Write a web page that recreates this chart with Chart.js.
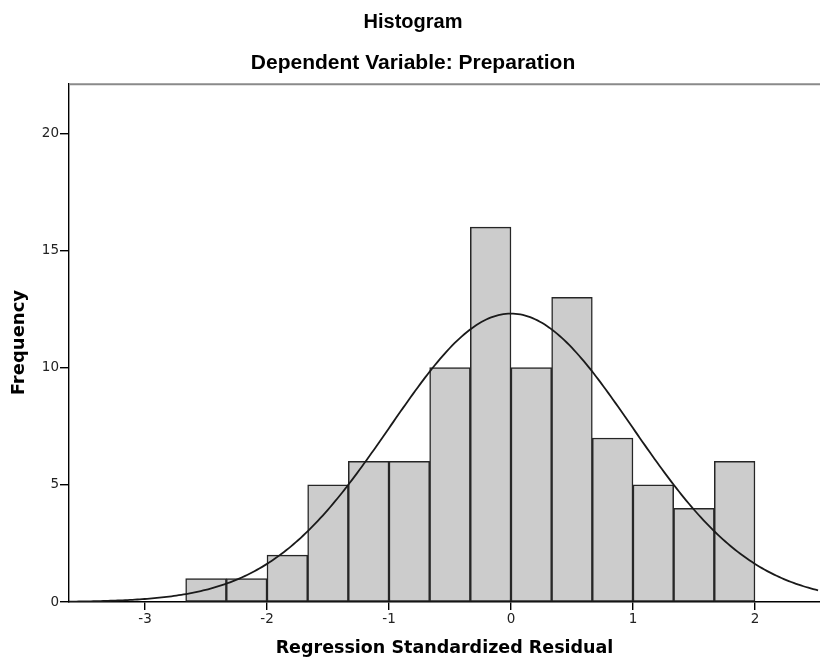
<!DOCTYPE html>
<html>
<head>
<meta charset="utf-8">
<title>Histogram</title>
<script src="https://cdn.jsdelivr.net/npm/chart.js@4/dist/chart.umd.min.js"></script>
<style>
  html, body { margin: 0; padding: 0; background: #ffffff; }
  #wrap { width: 820px; height: 661px; }
</style>
</head>
<body>
<div id="wrap"><canvas id="hist" width="820" height="661"></canvas></div>
<script>
// Histogram bins: lower edges (width one third of a unit) and counts
const binWidth = 1 / 3;
const binLowerEdges = [-8/3, -7/3, -6/3, -5/3, -4/3, -3/3, -2/3, -1/3, 0, 1/3, 2/3, 3/3, 4/3, 5/3];
const frequencies = [1, 1, 2, 5, 6, 6, 10, 16, 10, 13, 7, 5, 4, 6];

// Fitted normal curve parameters
const residualMean = 0;
const residualStdDev = 0.994;
const sampleSize = 92;

// Axis ticks and ranges
const xTickValues = [-3, -2, -1, 0, 1, 2];
const yTickValues = [0, 5, 10, 15, 20];
const xRange = [-3.623, 2.533];
const yRange = [0, 22.14];

const barPoints = binLowerEdges.map((lo, i) => ({ x: lo + binWidth / 2, y: frequencies[i] }));

// Normal density scaled to the histogram counts
const curvePoints = [];
for (let x = xRange[0]; x <= xRange[1] + 1e-9; x += 0.02) {
  const z = (x - residualMean) / residualStdDev;
  const y = sampleSize * binWidth * Math.exp(-0.5 * z * z) / (residualStdDev * Math.sqrt(2 * Math.PI));
  curvePoints.push({ x: x, y: y });
}

// Thin grey frame line along the top of the plot area
const topFrame = {
  id: 'topFrame',
  afterDraw(chart) {
    const { ctx, chartArea } = chart;
    ctx.save();
    ctx.strokeStyle = '#8a8a8a';
    ctx.lineWidth = 2;
    ctx.beginPath();
    ctx.moveTo(chartArea.left, chartArea.top + 1);
    ctx.lineTo(chartArea.right, chartArea.top + 1);
    ctx.stroke();
    ctx.restore();
  }
};

new Chart(document.getElementById('hist'), {
  type: 'bar',
  data: {
    datasets: [
      {
        type: 'line',
        data: curvePoints,
        borderColor: '#1a1a1a',
        borderWidth: 1.8,
        pointRadius: 0,
        tension: 0,
        fill: false,
        order: 0
      },
      {
        type: 'bar',
        data: barPoints,
        backgroundColor: '#cccccc',
        borderColor: '#262626',
        borderWidth: 1.5,
        borderSkipped: false,
        barPercentage: 1,
        categoryPercentage: 1,
        grouped: false,
        order: 1
      }
    ]
  },
  options: {
    responsive: false,
    animation: false,
    layout: { padding: { left: 6, right: 0, top: 0, bottom: 0 } },
    plugins: {
      legend: { display: false },
      tooltip: { enabled: false },
      title: {
        display: true,
        text: 'Histogram',
        color: '#000000',
        font: { family: 'Liberation Sans', size: 20, weight: 'bold', lineHeight: 1.2 },
        padding: { top: 10, bottom: 9 }
      },
      subtitle: {
        display: true,
        text: 'Dependent Variable: Preparation',
        color: '#000000',
        font: { family: 'Liberation Sans', size: 21, weight: 'bold', lineHeight: 1.2 },
        padding: { top: 8, bottom: 7 }
      }
    },
    scales: {
      x: {
        type: 'linear',
        min: xRange[0],
        max: xRange[1],
        offset: false,
        afterBuildTicks(scale) { scale.ticks = xTickValues.map(v => ({ value: v })); },
        afterFit(scale) { scale.height = 59; },
        grid: { display: true, offset: false, drawOnChartArea: false, drawTicks: true, tickLength: 8, color: '#000000', lineWidth: 1.4 },
        border: { display: true, color: '#000000', width: 1.4 },
        ticks: {
          color: '#222222',
          padding: 1,
          font: { family: 'DejaVu Sans', size: 13.5 },
          maxRotation: 0,
          callback: v => String(v)
        },
        title: {
          display: true,
          text: 'Regression Standardized Residual',
          color: '#000000',
          font: { family: 'DejaVu Sans', size: 17.5, weight: 'bold', lineHeight: 1.2 },
          padding: { top: 0, bottom: 2 }
        }
      },
      y: {
        type: 'linear',
        min: yRange[0],
        max: yRange[1],
        afterBuildTicks(scale) { scale.ticks = yTickValues.map(v => ({ value: v })); },
        afterFit(scale) { scale.width = 63; },
        grid: { display: true, drawOnChartArea: false, drawTicks: true, tickLength: 9, color: '#000000', lineWidth: 1.4 },
        border: { display: true, color: '#000000', width: 1.4 },
        ticks: {
          color: '#222222',
          padding: 1,
          font: { family: 'DejaVu Sans', size: 13.5 },
          callback: v => String(v)
        },
        title: {
          display: true,
          text: 'Frequency',
          color: '#000000',
          font: { family: 'DejaVu Sans', size: 18, weight: 'bold', lineHeight: 1.2 },
          padding: { top: 3, bottom: 0 }
        }
      }
    }
  },
  plugins: [topFrame]
});
</script>
</body>
</html>
